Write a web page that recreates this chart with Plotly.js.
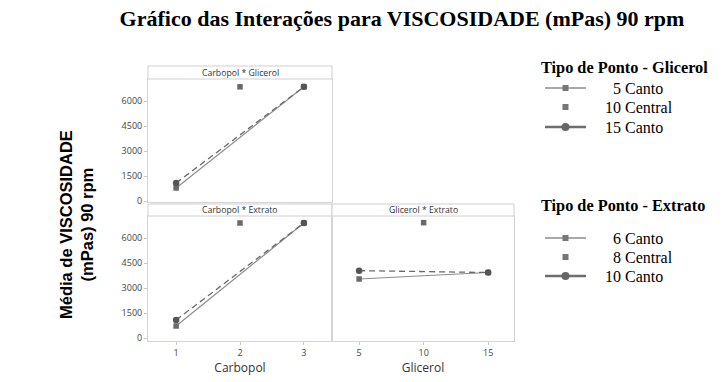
<!DOCTYPE html>
<html>
<head>
<meta charset="utf-8">
<script src="https://cdn.plot.ly/plotly-3.0.1.min.js"></script>
<style>html,body{margin:0;padding:0;background:#fff;}#chart{width:723px;height:382px;}</style>
</head>
<body>
<div id="chart"></div>
<script>
// ---- data ----
const carbopolCorners = [1, 3];
const carbopolCenter = [2];
const glicerolCorners = [5, 15];
const glicerolCenter = [10];
const carbopolTicks = [1, 2, 3];
const glicerolTicks = [5, 10, 15];
const yTicks = [0, 1500, 3000, 4500, 6000];

// Carbopol * Glicerol (series = Glicerol level)
const cgGlic5 = [780, 6850];
const cgGlic10 = [6850];
const cgGlic15 = [1080, 6850];
// Carbopol * Extrato (series = Extrato level)
const ceExt6 = [720, 6900];
const ceExt8 = [6900];
const ceExt10 = [1080, 6900];
// Glicerol * Extrato (series = Extrato level)
const geExt6 = [3540, 3930];
const geExt8 = [6920];
const geExt10 = [4040, 3930];

const glicNames = ['5 Canto', '10 Central', '15 Canto'];
const extNames = ['6 Canto', '8 Central', '10 Canto'];
const legendTitles = ['Tipo de Ponto - Glicerol', 'Tipo de Ponto - Extrato'];
const panelTitles = ['Carbopol * Glicerol', 'Carbopol * Extrato', 'Glicerol * Extrato'];

// ---- styles ----
const W = 723, H = 382;
const px = v => v / W, py = v => 1 - v / H;
const solidStyle = {line: {color: '#8c8c8c', width: 1.2}, marker: {symbol: 'square', size: 5.5, color: '#6a6a6a'}};
const centerStyle = {marker: {symbol: 'square', size: 5.5, color: '#6a6a6a'}};
const dashStyle = {line: {color: '#6a6a6a', width: 1.3, dash: '6px,4px'}, marker: {symbol: 'circle', size: 6.5, color: '#555'}};

function series(xa, ya, x, y, name, style, mode) {
  return Object.assign({type: 'scatter', mode: mode, x: x, y: y, xaxis: xa, yaxis: ya,
    name: name, showlegend: false, hoverinfo: 'skip'}, JSON.parse(JSON.stringify(style)));
}

const traces = [
  series('x', 'y', carbopolCorners, cgGlic5, glicNames[0], solidStyle, 'lines+markers'),
  series('x', 'y', carbopolCenter, cgGlic10, glicNames[1], centerStyle, 'markers'),
  series('x', 'y', carbopolCorners, cgGlic15, glicNames[2], dashStyle, 'lines+markers'),
  series('x2', 'y2', carbopolCorners, ceExt6, extNames[0], solidStyle, 'lines+markers'),
  series('x2', 'y2', carbopolCenter, ceExt8, extNames[1], centerStyle, 'markers'),
  series('x2', 'y2', carbopolCorners, ceExt10, extNames[2], dashStyle, 'lines+markers'),
  series('x3', 'y3', glicerolCorners, geExt6, extNames[0], solidStyle, 'lines+markers'),
  series('x3', 'y3', glicerolCenter, geExt8, extNames[1], centerStyle, 'markers'),
  series('x3', 'y3', glicerolCorners, geExt10, extNames[2], dashStyle, 'lines+markers')
];

const sans = 'Open Sans, DejaVu Sans, sans-serif';
const tickFont = {family: sans, size: 9, color: '#444'};
function xAxis(dom, range, ticks, title, anchor, labels) {
  return {domain: dom, range: range, tickvals: ticks, ticktext: ticks.map(String), anchor: anchor,
    showticklabels: labels, showgrid: false, zeroline: false, showline: true, mirror: true,
    linecolor: '#d4d4d4', linewidth: 1,
    ticks: labels ? 'outside' : '', ticklen: 3, tickcolor: '#c8c8c8', tickfont: tickFont,
    title: title ? {text: title, font: {family: sans, size: 12, color: '#333'}, standoff: 4} : {text: ''}};
}
function yAxis(dom, range, labels, anchor) {
  return {domain: dom, range: range, tickvals: yTicks, ticktext: yTicks.map(String), showticklabels: labels,
    anchor: anchor, showgrid: false, zeroline: false, showline: true, mirror: true, linecolor: '#d4d4d4', linewidth: 1,
    ticks: labels ? 'outside' : '', ticklen: 3, tickcolor: '#c8c8c8', tickfont: tickFont};
}

const xL = [px(148), px(332)], xR = [px(332), px(514)];
const yTop = [py(202), py(79)], yBot = [py(341), py(216)];

const shapes = [];
const annotations = [];
function header(x0, x1, y0, y1, text) {
  shapes.push({type: 'rect', xref: 'paper', yref: 'paper', x0: px(x0), x1: px(x1), y0: py(y1), y1: py(y0),
    line: {color: '#cfcfcf', width: 1}, fillcolor: '#fff'});
  annotations.push({xref: 'paper', yref: 'paper', x: px((x0 + x1) / 2), y: py((y0 + y1) / 2), text: text,
    showarrow: false, xanchor: 'center', yanchor: 'middle',
    font: {family: sans, size: 8.7, color: '#333'}});
}
header(148, 332, 66, 79, panelTitles[0]);
header(148, 332, 204, 216, panelTitles[1]);
header(332, 514, 204, 216, panelTitles[2]);

annotations.push({xref: 'paper', yref: 'paper', x: px(76), y: py(225), textangle: -90,
  text: '<b>Média de VISCOSIDADE<br>(mPas) 90 rpm</b>', showarrow: false, xanchor: 'center', yanchor: 'middle',
  font: {family: 'Liberation Sans, Arial, sans-serif', size: 16.5, color: '#000'}});

// ---- hand-built legends (Minitab style) ----
const serif = 'Liberation Serif, Times New Roman, serif';
function legend(titleY, itemYs, names, title) {
  annotations.push({xref: 'paper', yref: 'paper', x: px(539), y: py(titleY), xanchor: 'left', yanchor: 'middle',
    text: '<b>' + title + '</b>', showarrow: false,
    font: {family: serif, size: 16.3, color: '#000'}});
  names.forEach((nm, i) => {
    const y = py(itemYs[i]);
    const digits = nm.split(' ')[0].length;
    annotations.push({xref: 'paper', yref: 'paper', x: px(603 + (2 - digits) * 8), y: y, xanchor: 'left',
      yanchor: 'middle', text: nm, showarrow: false, font: {family: serif, size: 16, color: '#000'}});
    if (i !== 1) {
      shapes.push({type: 'line', xref: 'paper', yref: 'paper', x0: px(545), x1: px(586), y0: y, y1: y,
        line: {color: i === 0 ? '#8c8c8c' : '#6e6e6e', width: i === 0 ? 1.5 : 2.6}});
    }
    if (i === 2) {
      shapes.push({type: 'circle', xref: 'paper', yref: 'paper', x0: px(561.5), x1: px(569.5),
        y0: y - 4 / H, y1: y + 4 / H, line: {width: 0}, fillcolor: '#666'});
    } else {
      shapes.push({type: 'rect', xref: 'paper', yref: 'paper', x0: px(562.5), x1: px(568.5),
        y0: y - 3 / H, y1: y + 3 / H, line: {width: 0}, fillcolor: '#777'});
    }
  });
}
legend(67, [88, 107, 127], glicNames, legendTitles[0]);
legend(206, [238, 257, 276], extNames, legendTitles[1]);

const layout = {
  width: W, height: H, margin: {l: 0, r: 0, t: 0, b: 0},
  paper_bgcolor: '#fff', plot_bgcolor: '#fff', showlegend: false,
  title: {text: '<b>Gráfico das Interações para VISCOSIDADE (mPas) 90 rpm</b>', x: px(402), xanchor: 'center',
    y: py(18), yanchor: 'middle', font: {family: serif, size: 22, color: '#000'}},
  xaxis: xAxis(xL, [0.56, 3.44], carbopolTicks, null, 'y', false),
  yaxis: yAxis(yTop, [-60, 7320], true, 'x'),
  xaxis2: xAxis(xL, [0.56, 3.44], carbopolTicks, 'Carbopol', 'y2', true),
  yaxis2: yAxis(yBot, [-180, 7320], true, 'x2'),
  xaxis3: xAxis(xR, [2.9, 17.0], glicerolTicks, 'Glicerol', 'y3', true),
  yaxis3: yAxis(yBot, [-180, 7320], false, 'x3'),
  shapes: shapes, annotations: annotations
};

Plotly.newPlot('chart', traces, layout, {staticPlot: true, displayModeBar: false});
</script>
</body>
</html>
